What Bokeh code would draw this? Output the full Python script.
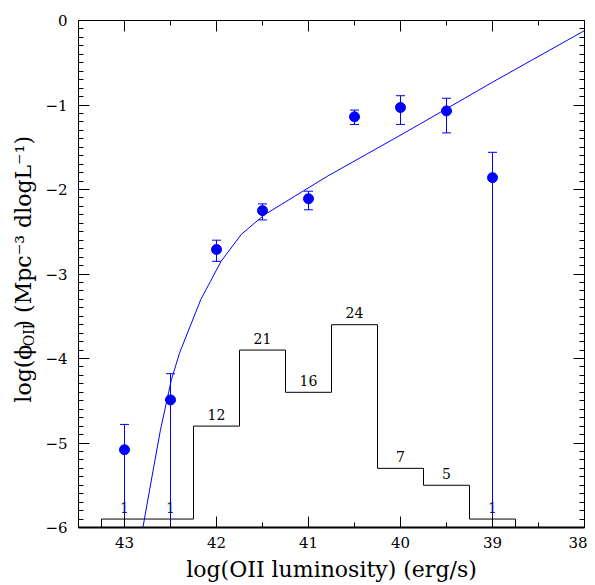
import math
from bokeh.plotting import figure
from bokeh.layouts import row
from bokeh.models import Range1d, LinearAxis, SingleIntervalTicker, ColumnDataSource, CustomJSTickFormatter
from bokeh.embed import file_html
from bokeh.resources import INLINE
from bokeh.core.properties import value

# ---------------- data ----------------
lum = [43.0, 42.5, 42.0, 41.5, 41.0, 40.5, 40.0, 39.5, 39.0]
log_phi = [-5.08, -4.49, -2.71, -2.25, -2.11, -1.14, -1.03, -1.07, -1.86]
err_hi = [-4.78, -4.18, -2.60, -2.17, -2.02, -1.06, -0.89, -0.92, -1.56]
err_lo = [None, None, -2.85, -2.36, -2.24, -1.23, -1.23, -1.33, None]  # None: bar runs off the bottom

curve_lum = [42.80, 42.69, 42.61, 42.49, 42.40, 42.17, 41.95, 41.73, 41.48,
             41.15, 40.79, 40.43, 40.07, 39.78, 39.00, 38.00]
curve_phi = [-6.00, -5.33, -4.85, -4.25, -3.93, -3.30, -2.85, -2.53, -2.30,
             -2.08, -1.84, -1.62, -1.40, -1.22, -0.73, -0.12]

hist_centers = [43.0, 42.5, 42.0, 41.5, 41.0, 40.5, 40.0, 39.5, 39.0]
hist_counts = [1, 1, 12, 21, 16, 24, 7, 5, 1]
bin_width = 0.5
hist_base = -6.0
hist_scale = 0.1   # one galaxy = 0.1 on the y axis

x_ticks = [43, 42, 41, 40, 39, 38]
y_ticks = [0, -1, -2, -3, -4, -5, -6]
y_tick_labels = ["0", "\u22121", "\u22122", "\u22123", "\u22124", "\u22125", "\u22126"]

x_label = "log(OII luminosity) (erg/s)"
y_label_parts = ["log(\u03d5", "OII", ")  (Mpc\u207b\u00b3 dlogL\u207b\u00b9)"]

BLUE = "#0000ff"
FONT = "DejaVu Serif"

# ---------------- layout sizes ----------------
LW = 40                     # width of the strip that carries the y label
X0, X1 = 43.5, 38.0
Y0, Y1 = -6.0, 0.0
W, H = 587 - LW, 585
BL, BR, BT, BB = 78 - LW, 3, 20, 58
FW, FH = W - BL - BR, H - BT - BB

# ---------------- y-label strip ----------------
STRIP_SPAN = 540            # measured pixel span of the strip's frame
yl = figure(width=LW, height=H, x_range=Range1d(0, LW), y_range=Range1d(STRIP_SPAN, 0),
            output_backend="svg", toolbar_location=None, title=None,
            x_axis_location=None, y_axis_location=None,
            min_border_left=0, min_border_right=0, min_border_top=0, min_border_bottom=0)
yl.outline_line_color = None
yl.grid.visible = False
base_x = 23
start_y = 407
widths = [60, 19]
lab = ColumnDataSource(dict(
    x=[base_x, base_x + 5, base_x],
    y=[start_y, start_y - widths[0], start_y - widths[0] - widths[1]],
    t=y_label_parts,
    s=["22px", "14px", "22px"]))
yl.text(x="x", y="y", text="t", source=lab, text_font_size="s", angle=math.pi / 2,
        text_font=value(FONT), text_align="left", text_baseline="alphabetic", text_color="black")

# ---------------- main figure ----------------
p = figure(width=W, height=H, x_range=Range1d(X0, X1), y_range=Range1d(Y0, Y1),
           output_backend="svg", toolbar_location=None,
           min_border_left=BL, min_border_right=BR, min_border_top=BT, min_border_bottom=BB)
p.outline_line_color = None
p.xgrid.visible = False
p.ygrid.visible = False
p.background_fill_color = "white"

def style(ax, lw=1):
    ax.major_tick_in = 11
    ax.major_tick_out = 0
    ax.minor_tick_in = 5
    ax.minor_tick_out = 0
    ax.axis_line_color = "black"
    ax.axis_line_width = lw
    ax.major_tick_line_color = "black"
    ax.minor_tick_line_color = "black"
    ax.major_label_text_font = FONT
    ax.major_label_text_font_size = "15px"
    ax.major_label_text_color = "black"

xa = p.xaxis[0]
xa.ticker = SingleIntervalTicker(interval=1, num_minor_ticks=2)
style(xa, 2)
xa.major_label_standoff = 9
xa.axis_label = x_label
xa.axis_label_text_font = FONT
xa.axis_label_text_font_size = "22px"
xa.axis_label_text_font_style = "normal"
xa.axis_label_text_color = "black"
xa.axis_label_standoff = 6

ya = p.yaxis[0]
ya.ticker = SingleIntervalTicker(interval=1, num_minor_ticks=10)
style(ya)
ya.major_label_standoff = 11
ya.major_label_overrides = {float(k): v for k, v in zip(y_ticks, y_tick_labels)}

blank = CustomJSTickFormatter(code="return ''")
top = LinearAxis(ticker=SingleIntervalTicker(interval=1, num_minor_ticks=2), formatter=blank)
style(top)
top.major_label_standoff = 0
top.major_label_text_font_size = "0px"
p.add_layout(top, "above")
right = LinearAxis(ticker=SingleIntervalTicker(interval=1, num_minor_ticks=10), formatter=blank)
style(right)
right.major_label_standoff = 0
right.major_label_text_font_size = "0px"
p.add_layout(right, "right")

# ---------------- histogram (step outline) ----------------
hx, hy = [], []
for c, n in zip(hist_centers, hist_counts):
    h = hist_base + hist_scale * n
    left, rgt = c + bin_width / 2, c - bin_width / 2
    if not hx:
        hx.append(left); hy.append(hist_base)
    hx += [left, rgt]
    hy += [h, h]
hx.append(hx[-1]); hy.append(hist_base)
p.line(hx, hy, line_color="black", line_width=1)

label_gap = 12 * (Y1 - Y0) / FH   # px above the step, in data units
tsrc = ColumnDataSource(dict(x=hist_centers,
                             y=[hist_base + hist_scale * n + label_gap for n in hist_counts],
                             t=[str(n) for n in hist_counts]))
p.text(x="x", y="y", text="t", source=tsrc, text_font=value(FONT), text_font_size="14px",
       text_align="center", text_baseline="alphabetic", text_color="black")

# ---------------- model curve ----------------
p.line(curve_lum, curve_phi, line_color=BLUE, line_width=1)

# ---------------- data points with error bars ----------------
lo_line = [Y0 if v is None else v for v in err_lo]
p.segment(x0=lum, y0=lo_line, x1=lum, y1=err_hi, line_color=BLUE, line_width=1)
p.scatter(x=lum, y=err_hi, marker="dash", size=9, line_color=BLUE, line_width=1)
cap_x = [x for x, v in zip(lum, err_lo) if v is not None]
cap_y = [v for v in err_lo if v is not None]
p.scatter(x=cap_x, y=cap_y, marker="dash", size=9, line_color=BLUE, line_width=1)
p.scatter(x=lum, y=log_phi, marker="circle", size=10, fill_color=BLUE, line_color=BLUE)

layout = row(yl, p, spacing=0)
open("out.html", "w").write(file_html(layout, INLINE))
